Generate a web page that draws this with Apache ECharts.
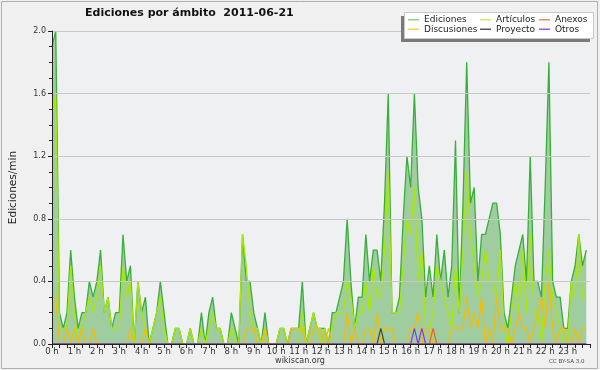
<!DOCTYPE html>
<html>
<head>
<meta charset="utf-8">
<script src="https://cdn.jsdelivr.net/npm/echarts@6/dist/echarts.min.js"></script>
<style>
html,body{margin:0;padding:0;background:#f0f0f0;}
#c{width:600px;height:370px;}
</style>
</head>
<body>
<div id="c"></div>
<script>
// 10-minute bins, 144 per day (edits per minute)
const ediciones = [1.9,2.0,0.2,0.1,0.2,0.6,0.3,0.1,0.2,0.2,0.4,0.3,0.4,0.6,0.2,0.3,0.1,0.2,0.2,0.7,0.4,0.5,0.0,0.4,
0.2,0.3,0.0,0.1,0.2,0.4,0.2,0.0,0.0,0.1,0.1,0.0,0.0,0.1,0.0,0.0,0.2,0.0,0.2,0.3,0.1,0.1,0.0,0.0,
0.2,0.1,0.0,0.7,0.4,0.4,0.2,0.1,0.0,0.2,0.0,0.0,0.0,0.1,0.1,0.0,0.1,0.1,0.1,0.4,0.0,0.1,0.2,0.1,
0.1,0.1,0.0,0.2,0.2,0.3,0.4,0.8,0.4,0.1,0.3,0.3,0.7,0.4,0.6,0.6,0.4,0.9,1.6,0.2,0.2,0.3,0.8,1.2,
1.0,1.6,1.0,0.8,0.3,0.5,0.3,0.7,0.4,0.6,0.3,0.5,1.3,0.2,0.9,1.8,0.9,1.0,0.4,0.7,0.7,0.8,0.9,0.9,
0.7,0.2,0.1,0.3,0.5,0.6,0.7,0.4,1.2,0.4,0.4,0.3,1.0,1.8,0.4,0.3,0.3,0.1,0.1,0.4,0.5,0.7,0.5,0.6];
const articulos = [1.4,1.6,0.1,0.1,0.1,0.5,0.2,0.0,0.1,0.2,0.3,0.2,0.3,0.5,0.2,0.3,0.1,0.1,0.1,0.5,0.3,0.4,0.0,0.4,
0.2,0.1,0.0,0.1,0.2,0.3,0.1,0.0,0.0,0.1,0.1,0.0,0.0,0.1,0.0,0.0,0.1,0.0,0.1,0.2,0.1,0.1,0.0,0.0,
0.1,0.0,0.0,0.7,0.5,0.2,0.1,0.1,0.0,0.1,0.0,0.0,0.0,0.1,0.1,0.0,0.0,0.0,0.0,0.2,0.0,0.1,0.2,0.1,
0.0,0.1,0.0,0.1,0.2,0.2,0.2,0.4,0.3,0.1,0.2,0.2,0.4,0.2,0.5,0.3,0.3,0.6,1.1,0.2,0.2,0.2,0.5,0.8,
0.7,1.0,0.4,0.6,0.1,0.1,0.2,0.5,0.4,0.3,0.2,0.1,0.5,0.2,0.6,1.1,0.7,0.5,0.3,0.4,0.6,0.4,0.4,0.3,
0.6,0.1,0.0,0.2,0.4,0.2,0.6,0.2,0.7,0.2,0.2,0.0,0.4,0.6,0.3,0.2,0.1,0.0,0.0,0.4,0.3,0.7,0.3,0.3];
const discusiones = [0.3,0.3,0.0,0.0,0.1,0.0,0.1,0.0,0.1,0.0,0.0,0.1,0.0,0.0,0.0,0.0,0.0,0.0,0.0,0.0,0.0,0.1,0.0,0.0,
0.0,0.1,0.0,0.0,0.0,0.0,0.0,0.0,0.0,0.0,0.0,0.0,0.0,0.0,0.0,0.0,0.0,0.0,0.0,0.0,0.0,0.0,0.0,0.0,
0.0,0.0,0.0,0.0,0.1,0.1,0.1,0.0,0.0,0.1,0.0,0.0,0.0,0.0,0.0,0.0,0.1,0.1,0.1,0.1,0.0,0.0,0.1,0.1,
0.1,0.0,0.1,0.0,0.0,0.0,0.0,0.2,0.0,0.1,0.0,0.0,0.1,0.1,0.0,0.2,0.0,0.1,0.1,0.1,0.0,0.0,0.0,0.0,
0.1,0.1,0.2,0.0,0.1,0.1,0.0,0.0,0.0,0.0,0.0,0.1,0.1,0.1,0.1,0.3,0.1,0.2,0.1,0.3,0.0,0.1,0.0,0.3,
0.1,0.1,0.1,0.0,0.1,0.2,0.1,0.1,0.0,0.1,0.2,0.3,0.1,0.4,0.1,0.0,0.1,0.1,0.0,0.0,0.1,0.0,0.1,0.1];
const anexos = new Array(144).fill(0); anexos[102] = 0.1;
const proyecto = new Array(144).fill(0); proyecto[88] = 0.1;
const otros = new Array(144).fill(0); otros[97] = 0.1; otros[99] = 0.1;

const hourTicks = 24;          // x axis runs 0 h .. 24 h
const binsPerHour = 6;
const yTicks = [0, 0.4, 0.8, 1.2, 1.6, 2.0];

const pts = arr => arr.map((v, i) => [i / binsPerHour, v]);
const FONT = 'DejaVu Sans';

const chart = echarts.init(document.getElementById('c'), null, {renderer: 'canvas'});
const lineSeries = (name, data, color, w, z) => ({
  name, type: 'line', data: pts(data), symbol: 'none', z,
  lineStyle: {color, width: w}, itemStyle: {color}, emphasis: {disabled: true}
});
const legendCommon = {
  orient: 'vertical', itemWidth: 11, itemHeight: 1.5, itemGap: 0, icon: 'rect',
  padding: 0, itemTextGap: 6, z: 20, selectedMode: false,
  textStyle: {fontFamily: FONT, fontSize: 9, color: '#222', lineHeight: 9.5}
};
chart.setOption({
  animation: false,
  backgroundColor: '#f0f0f0',
  title: {
    text: 'Ediciones por ámbito  2011-06-21', left: 85, top: 8, padding: 0,
    textStyle: {fontFamily: FONT, fontSize: 11, fontWeight: 'bold', color: '#111'}
  },
  legend: [
    Object.assign({left: 408, top: 15, data: [
      {name: 'Ediciones', itemStyle: {color: '#8ad48a'}},
      {name: 'Discusiones', itemStyle: {color: '#f5d450'}}]}, legendCommon),
    Object.assign({left: 480, top: 15, data: [
      {name: 'Artículos', itemStyle: {color: '#cdf06a'}},
      {name: 'Proyecto', itemStyle: {color: '#555555'}}]}, legendCommon),
    Object.assign({left: 539, top: 15, data: [
      {name: 'Anexos', itemStyle: {color: '#f08a60'}},
      {name: 'Otros', itemStyle: {color: '#9a5ae8'}}]}, legendCommon)
  ],
  grid: {left: 46, right: 10, top: 31, bottom: 26, show: true, backgroundColor: '#eef0f2', borderWidth: 0},
  xAxis: {
    type: 'value', min: 0, max: hourTicks, interval: 1, z: 10,
    axisLine: {lineStyle: {color: '#222', width: 1}},
    axisTick: {show: true, length: 4, lineStyle: {color: '#222'}},
    minorTick: {show: true, splitNumber: 3, length: 4, lineStyle: {color: '#222'}},
    splitLine: {show: false},
    axisLabel: {showMaxLabel: false, margin: 3, fontFamily: FONT, fontSize: 8.5, color: '#333',
      formatter: v => v + ' h'}
  },
  yAxis: {
    type: 'value', min: yTicks[0], max: yTicks[yTicks.length - 1], interval: 0.4, z: 10,
    name: 'Ediciones/min', nameLocation: 'middle', nameRotate: 90, nameGap: 33,
    nameTextStyle: {fontFamily: FONT, fontSize: 10.5, color: '#222'},
    axisLine: {show: true, lineStyle: {color: '#222', width: 1}},
    axisTick: {show: true, length: 4, lineStyle: {color: '#222'}},
    minorTick: {show: true, splitNumber: 4, length: 3, lineStyle: {color: '#222'}},
    splitLine: {show: true, lineStyle: {color: '#c8c8c8', width: 1}},
    axisLabel: {margin: 6, fontFamily: FONT, fontSize: 8, color: '#333', formatter: v => v.toFixed(1)}
  },
  graphic: [
    {type: 'rect', z: 15, shape: {x: 401, y: 16, width: 189, height: 26}, style: {fill: '#7a7a7a'}},
    {type: 'rect', z: 16, shape: {x: 404.5, y: 12.5, width: 189, height: 26}, style: {fill: '#ffffff', stroke: '#c8c8c8', lineWidth: 1}},
    {type: 'text', z: 16, left: 'center', top: 357, style: {text: 'wikiscan.org', font: '8px "DejaVu Sans"', fill: '#333'}},
    {type: 'text', z: 16, left: 549, top: 359, style: {text: 'CC BY-SA 3.0', font: '5.5px "DejaVu Sans"', fill: '#444'}},
    {type: 'rect', z: 30, shape: {x: 1.5, y: 1.5, width: 596, height: 367}, style: {fill: 'none', stroke: '#b0b0b0', lineWidth: 1}}
  ],
  series: [
    Object.assign(lineSeries('Ediciones', ediciones, '#3aae3a', 1.3, 2), {areaStyle: {color: '#a0cda0', opacity: 1}}),
    lineSeries('Artículos', articulos, '#a8e800', 1.3, 3),
    lineSeries('Discusiones', discusiones, '#f5bc00', 1.2, 4),
    lineSeries('Anexos', anexos, '#f06020', 1.2, 5),
    lineSeries('Proyecto', proyecto, '#444444', 1.2, 5),
    lineSeries('Otros', otros, '#7a3cf0', 1.2, 5)
  ]
});
</script>
</body>
</html>
